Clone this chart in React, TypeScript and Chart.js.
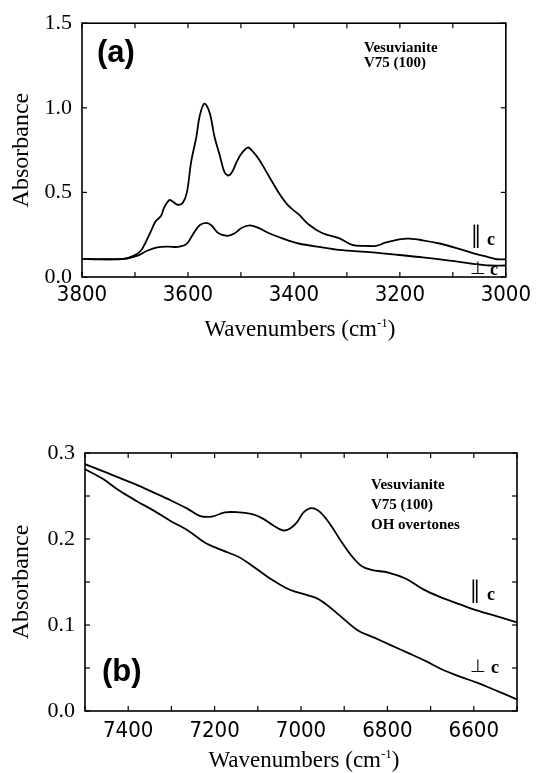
import React, { useEffect, useRef } from "react";
import { Chart, registerables } from "chart.js";
Chart.register(...registerables);

// ---------- Panel (a): OH stretching region ----------
const aParallelX = [3800, 3759, 3721, 3702, 3689, 3680, 3670, 3661, 3651, 3645, 3635, 3629, 3619, 3610, 3602, 3594, 3584, 3578, 3569, 3559, 3550, 3540, 3531, 3523, 3515, 3508, 3499, 3487, 3480, 3467, 3448, 3429, 3410, 3391, 3372, 3347, 3315, 3290, 3264, 3245, 3226, 3201, 3182, 3157, 3125, 3093, 3061, 3036, 3017, 3000];
const aParallelY = [0.107, 0.104, 0.107, 0.126, 0.155, 0.204, 0.27, 0.33, 0.36, 0.41, 0.455, 0.446, 0.427, 0.437, 0.5, 0.68, 0.83, 0.95, 1.025, 0.97, 0.83, 0.72, 0.62, 0.6, 0.63, 0.68, 0.73, 0.765, 0.75, 0.7, 0.6, 0.5, 0.42, 0.37, 0.31, 0.26, 0.23, 0.19, 0.184, 0.184, 0.204, 0.223, 0.227, 0.217, 0.198, 0.171, 0.14, 0.12, 0.105, 0.105];
const aPerpX = [3800, 3721, 3695, 3677, 3658, 3638, 3619, 3603, 3591, 3578, 3565, 3556, 3543, 3525, 3511, 3499, 3483, 3467, 3448, 3423, 3391, 3347, 3315, 3252, 3201, 3157, 3106, 3061, 3030, 3000];
const aPerpY = [0.107, 0.107, 0.126, 0.155, 0.175, 0.18, 0.178, 0.194, 0.25, 0.306, 0.32, 0.306, 0.26, 0.243, 0.26, 0.29, 0.305, 0.29, 0.26, 0.23, 0.198, 0.175, 0.16, 0.146, 0.13, 0.116, 0.097, 0.078, 0.068, 0.068];
const aXTicks = [3800, 3600, 3400, 3200, 3000];
const aYTicks = [0, 0.5, 1.0, 1.5];

// ---------- Panel (b): OH overtones ----------
const bParallelX = [7500, 7459, 7420, 7380, 7341, 7302, 7262, 7235, 7207, 7176, 7144, 7113, 7089, 7065, 7042, 7026, 7010, 6994, 6975, 6955, 6931, 6908, 6884, 6861, 6837, 6798, 6758, 6719, 6680, 6632, 6593, 6546, 6500];
const bParallelY = [0.287, 0.279, 0.271, 0.263, 0.254, 0.245, 0.235, 0.227, 0.226, 0.231, 0.231, 0.229, 0.224, 0.216, 0.21, 0.212, 0.219, 0.231, 0.236, 0.231, 0.216, 0.198, 0.181, 0.169, 0.164, 0.161, 0.154, 0.142, 0.133, 0.124, 0.117, 0.11, 0.103];
const bPerpX = [7500, 7459, 7420, 7380, 7341, 7302, 7262, 7223, 7183, 7144, 7105, 7065, 7026, 6987, 6963, 6939, 6908, 6869, 6829, 6790, 6750, 6711, 6672, 6632, 6593, 6554, 6500];
const bPerpY = [0.281, 0.27, 0.256, 0.244, 0.233, 0.221, 0.21, 0.196, 0.187, 0.179, 0.166, 0.152, 0.141, 0.135, 0.131, 0.123, 0.11, 0.094, 0.085, 0.076, 0.067, 0.058, 0.048, 0.04, 0.033, 0.025, 0.0135];
const bXTicks = [7400, 7200, 7000, 6800, 6600];
const bYTicks = [0, 0.1, 0.2, 0.3];

const SERIF = "'Liberation Serif', 'Times New Roman', serif";
const NARROW = "'Liberation Sans Narrow', 'Arial Narrow', 'DejaVu Sans Condensed', 'Liberation Sans', sans-serif";
const SANS = "'Liberation Sans', Arial, sans-serif";

type TextItem = { text: string; x: number; y: number; font: string; align?: CanvasTextAlign; baseline?: CanvasTextBaseline };

const framePlugin = {
  id: "frameTicksTexts",
  afterDatasetsDraw(chart: any, _args: any, opts: any) {
    const { ctx, chartArea: a, scales } = chart;
    const x = scales.x, y = scales.y;
    ctx.save();
    ctx.strokeStyle = "#000";
    ctx.lineWidth = 1.6;
    ctx.strokeRect(a.left, a.top, a.right - a.left, a.bottom - a.top);
    ctx.lineWidth = 1.2;
    const tl = 5;
    const seg = (x1: number, y1: number, x2: number, y2: number) => {
      ctx.beginPath(); ctx.moveTo(x1, y1); ctx.lineTo(x2, y2); ctx.stroke();
    };
    const nx = Math.round((x.max - x.min) / opts.xMinor);
    for (let i = 0; i <= nx; i++) {
      const px = x.getPixelForValue(x.min + i * opts.xMinor);
      seg(px, a.bottom, px, a.bottom - tl);
      seg(px, a.top, px, a.top + tl);
    }
    const ny = Math.round((y.max - y.min) / opts.yMinor);
    for (let i = 0; i <= ny; i++) {
      const py = y.getPixelForValue(y.min + i * opts.yMinor);
      seg(a.left, py, a.left + tl, py);
      seg(a.right, py, a.right - tl, py);
    }
    ctx.fillStyle = "#000";
    (opts.texts as TextItem[]).forEach((t) => {
      ctx.font = t.font;
      ctx.textAlign = t.align || "left";
      ctx.textBaseline = t.baseline || "alphabetic";
      ctx.fillText(t.text, t.x, t.y);
    });
    // x axis title with superscript
    const xt = opts.xTitle;
    const mainFont = `23px ${SERIF}`;
    const supFont = `13px ${SERIF}`;
    ctx.textAlign = "left";
    ctx.textBaseline = "alphabetic";
    ctx.font = mainFont;
    const p1 = "Wavenumbers (cm", p3 = ")";
    const w1 = ctx.measureText(p1).width, w3 = ctx.measureText(p3).width;
    ctx.font = supFont;
    const p2 = "-1";
    const w2 = ctx.measureText(p2).width;
    let sx = xt.x - (w1 + w2 + w3) / 2;
    ctx.font = mainFont; ctx.fillText(p1, sx, xt.y); sx += w1;
    ctx.font = supFont; ctx.fillText(p2, sx, xt.y - 9); sx += w2;
    ctx.font = mainFont; ctx.fillText(p3, sx, xt.y);
    ctx.restore();
  },
};

function pts(xs: number[], ys: number[]) {
  return xs.map((v, i) => ({ x: v, y: ys[i] }));
}

type PanelSpec = {
  height: number;
  top: number;
  series: { x: number[]; y: number[] }[];
  xMin: number; xMax: number; xTicks: number[]; xMinor: number;
  yMin: number; yMax: number; yTicks: number[]; yMinor: number;
  axisLeft: number; padRight: number; padTop: number; xAxisHeight: number;
  xLabelPad: number; yLabelPad: number;
  texts: TextItem[];
  xTitle: { x: number; y: number };
};

function buildConfig(p: PanelSpec): any {
  return {
    type: "line",
    data: {
      datasets: p.series.map((s) => ({
        data: pts(s.x, s.y),
        borderColor: "#000",
        borderWidth: 1.8,
        pointRadius: 0,
        tension: 0.35,
        fill: false,
      })),
    },
    options: {
      animation: false,
      responsive: false,
      maintainAspectRatio: false,
      layout: { padding: { left: 0, right: p.padRight, top: p.padTop, bottom: 0 } },
      plugins: {
        legend: { display: false },
        tooltip: { enabled: false },
        frameTicksTexts: { xMinor: p.xMinor, yMinor: p.yMinor, texts: p.texts, xTitle: p.xTitle },
      },
      scales: {
        x: {
          type: "linear",
          reverse: true,
          min: p.xMin,
          max: p.xMax,
          grid: { display: false, drawTicks: false },
          border: { display: false },
          afterBuildTicks: (s: any) => { s.ticks = p.xTicks.map((v) => ({ value: v })); },
          afterFit: (s: any) => { s.height = p.xAxisHeight; },
          ticks: {
            autoSkip: false,
            maxRotation: 0,
            padding: p.xLabelPad,
            color: "#000",
            font: { family: NARROW, size: 22 },
            callback: (v: any) => String(v),
          },
        },
        y: {
          type: "linear",
          min: p.yMin,
          max: p.yMax,
          grid: { display: false, drawTicks: false },
          border: { display: false },
          afterBuildTicks: (s: any) => { s.ticks = p.yTicks.map((v) => ({ value: v })); },
          afterFit: (s: any) => { s.width = p.axisLeft; },
          ticks: {
            padding: p.yLabelPad,
            color: "#000",
            font: { family: SERIF, size: 22 },
            callback: (v: any) => Number(v).toFixed(1),
          },
          title: {
            display: true,
            text: "Absorbance",
            color: "#000",
            font: { family: SERIF, size: 24 },
            padding: { top: 7, bottom: 0 },
          },
        },
      },
    },
    plugins: [framePlugin],
  };
}

const panelA: PanelSpec = {
  height: 386,
  top: 0,
  series: [{ x: aParallelX, y: aParallelY }, { x: aPerpX, y: aPerpY }],
  xMin: 3000, xMax: 3800, xTicks: aXTicks, xMinor: 100,
  yMin: 0, yMax: 1.5, yTicks: aYTicks, yMinor: 0.5,
  axisLeft: 82, padRight: 24, padTop: 20, xAxisHeight: 109,
  xLabelPad: 5, yLabelPad: 10,
  texts: [
    { text: "(a)", x: 97, y: 53, font: `bold 31px ${SANS}`, baseline: "middle" },
    { text: "Vesuvianite", x: 364, y: 52, font: `bold 15px ${SERIF}` },
    { text: "V75 (100)", x: 364, y: 67, font: `bold 15px ${SERIF}` },
    { text: "\u2016", x: 476, y: 239, font: `34px ${SERIF}`, align: "center", baseline: "middle" },
    { text: "c", x: 491, y: 245, font: `bold 18px ${SERIF}`, align: "center" },
    { text: "\u22A5", x: 478, y: 269, font: `18px ${SERIF}`, align: "center", baseline: "middle" },
    { text: "c", x: 494, y: 275, font: `bold 18px ${SERIF}`, align: "center" },
  ],
  xTitle: { x: 300, y: 336 },
};

const panelB: PanelSpec = {
  height: 387,
  top: 386,
  series: [{ x: bParallelX, y: bParallelY }, { x: bPerpX, y: bPerpY }],
  xMin: 6500, xMax: 7500, xTicks: bXTicks, xMinor: 100,
  yMin: 0, yMax: 0.3, yTicks: bYTicks, yMinor: 0.05,
  axisLeft: 85, padRight: 19, padTop: 67, xAxisHeight: 62,
  xLabelPad: 7, yLabelPad: 10,
  texts: [
    { text: "(b)", x: 102, y: 286, font: `bold 31px ${SANS}`, baseline: "middle" },
    { text: "Vesuvianite", x: 371, y: 103, font: `bold 15px ${SERIF}` },
    { text: "V75 (100)", x: 371, y: 123, font: `bold 15px ${SERIF}` },
    { text: "OH overtones", x: 371, y: 143, font: `bold 15px ${SERIF}` },
    { text: "\u2016", x: 475, y: 208, font: `34px ${SERIF}`, align: "center", baseline: "middle" },
    { text: "c", x: 491, y: 214, font: `bold 18px ${SERIF}`, align: "center" },
    { text: "\u22A5", x: 478, y: 281, font: `18px ${SERIF}`, align: "center", baseline: "middle" },
    { text: "c", x: 495, y: 287, font: `bold 18px ${SERIF}`, align: "center" },
  ],
  xTitle: { x: 304, y: 381 },
};

function Panel({ spec }: { spec: PanelSpec }) {
  const ref = useRef<HTMLCanvasElement>(null);
  useEffect(() => {
    const chart = new Chart(ref.current as HTMLCanvasElement, buildConfig(spec));
    return () => chart.destroy();
  }, []);
  return (
    <div style={{ position: "absolute", left: 0, top: spec.top, width: 536, height: spec.height }}>
      <canvas ref={ref} width={536} height={spec.height} style={{ display: "block", width: 536, height: spec.height }} />
    </div>
  );
}

export default function App() {
  return (
    <div style={{ background: "#fff" }}>
      <Panel spec={panelA} />
      <Panel spec={panelB} />
    </div>
  );
}
